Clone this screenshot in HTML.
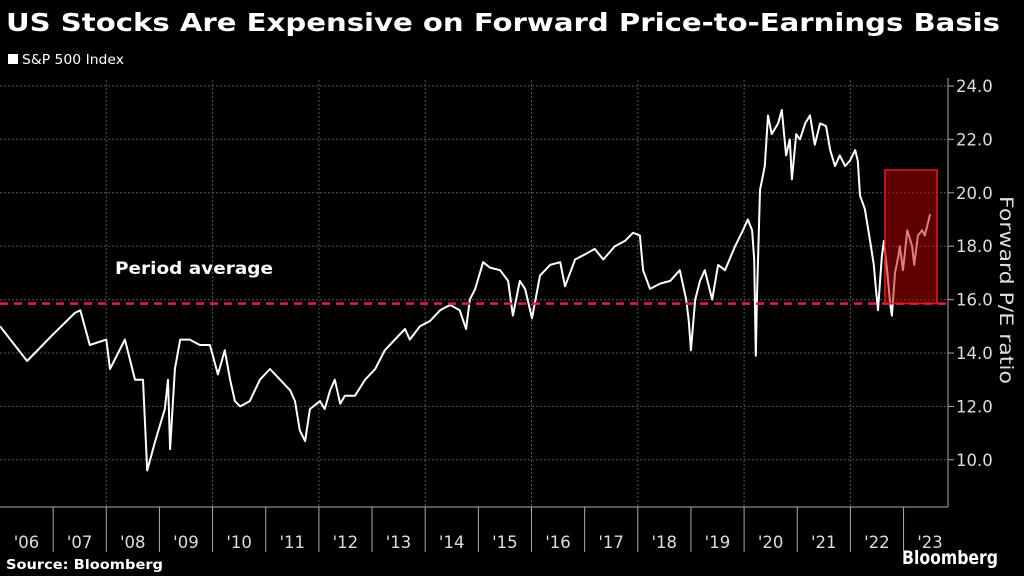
<!DOCTYPE html>
<html><head><meta charset="utf-8"><style>
body{margin:0;background:#000;width:1024px;height:576px;overflow:hidden;font-family:"DejaVu Sans","Liberation Sans",sans-serif;color:#fff}
svg{position:absolute;left:0;top:0;font-family:"DejaVu Sans","Liberation Sans",sans-serif}
</style></head><body>
<svg width="1024" height="576" id="chart">
<text x="6" y="31" font-size="25" font-weight="bold" fill="#fff" textLength="994" lengthAdjust="spacingAndGlyphs">US Stocks Are Expensive on Forward Price-to-Earnings Basis</text>
<rect x="8" y="54" width="10" height="10" fill="#fff"/>
<text x="22" y="64" font-size="13" fill="#fff" textLength="102" lengthAdjust="spacingAndGlyphs">S&amp;P 500 Index</text>
<text x="115" y="274" font-size="17" font-weight="bold" fill="#fff" textLength="158" lengthAdjust="spacingAndGlyphs">Period average</text>
<text transform="translate(1000,290) rotate(90)" text-anchor="middle" font-size="19" fill="#ddd" textLength="188" lengthAdjust="spacingAndGlyphs">Forward P/E ratio</text>
<text x="6" y="569" font-size="13" font-weight="bold" fill="#fff" textLength="157" lengthAdjust="spacingAndGlyphs">Source: Bloomberg</text>
<text x="998" y="564" text-anchor="end" font-size="19" font-weight="bold" fill="#fff" textLength="96" lengthAdjust="spacingAndGlyphs">Bloomberg</text>
<g id="grid"></g><g id="axes"></g><g id="series"></g><g id="overlay"></g>
</svg>
<script>
const years=[2006.00,2006.51,2007.00,2007.41,2007.51,2007.69,2008.00,2008.07,2008.35,2008.54,2008.69,2008.77,2008.92,2009.10,2009.16,2009.20,2009.29,2009.39,2009.57,2009.76,2009.95,2010.10,2010.23,2010.33,2010.42,2010.52,2010.70,2010.89,2011.08,2011.27,2011.46,2011.55,2011.64,2011.74,2011.83,2012.02,2012.11,2012.21,2012.30,2012.40,2012.49,2012.68,2012.87,2013.06,2013.24,2013.43,2013.62,2013.71,2013.90,2014.09,2014.28,2014.47,2014.65,2014.77,2014.84,2014.94,2015.09,2015.22,2015.41,2015.56,2015.65,2015.78,2015.88,2016.01,2016.16,2016.35,2016.54,2016.63,2016.82,2017.01,2017.19,2017.35,2017.57,2017.76,2017.91,2018.04,2018.10,2018.23,2018.42,2018.61,2018.79,2018.91,2018.96,2019.00,2019.08,2019.17,2019.26,2019.40,2019.51,2019.64,2019.83,2019.98,2020.07,2020.15,2020.19,2020.22,2020.24,2020.30,2020.39,2020.45,2020.52,2020.64,2020.71,2020.79,2020.86,2020.90,2020.98,2021.05,2021.15,2021.24,2021.33,2021.43,2021.54,2021.62,2021.71,2021.80,2021.90,2021.99,2022.09,2022.14,2022.18,2022.27,2022.37,2022.44,2022.48,2022.52,2022.59,2022.63,2022.69,2022.75,2022.78,2022.84,2022.90,2022.93,2022.99,2023.07,2023.16,2023.20,2023.27,2023.35,2023.40,2023.50];
const pe=[15.0,13.7,14.7,15.5,15.6,14.3,14.5,13.4,14.5,13.0,13.0,9.6,10.7,11.9,13.0,10.4,13.4,14.5,14.5,14.3,14.3,13.2,14.1,13.0,12.2,12.0,12.2,13.0,13.4,13.0,12.6,12.2,11.1,10.7,11.9,12.2,11.9,12.6,13.0,12.1,12.4,12.4,13.0,13.4,14.1,14.5,14.9,14.5,15.0,15.2,15.6,15.8,15.6,14.9,16.0,16.4,17.4,17.2,17.1,16.7,15.4,16.7,16.4,15.3,16.9,17.3,17.4,16.5,17.5,17.7,17.9,17.5,18.0,18.2,18.5,18.4,17.1,16.4,16.6,16.7,17.1,16.0,15.2,14.1,16.0,16.7,17.1,16.0,17.3,17.1,18.0,18.6,19.0,18.6,17.5,13.9,16.0,20.1,21.0,22.9,22.2,22.6,23.1,21.4,22.0,20.5,22.2,22.0,22.6,22.9,21.8,22.6,22.5,21.6,21.0,21.4,21.0,21.2,21.6,21.2,19.9,19.4,18.2,17.3,16.4,15.6,17.6,18.2,17.1,15.8,15.4,17.0,17.6,18.0,17.1,18.6,18.0,17.3,18.4,18.6,18.4,19.2];
const yTicks=[10,12,14,16,18,20,22,24];
const xLabels=["'06","'07","'08","'09","'10","'11","'12","'13","'14","'15","'16","'17","'18","'19","'20","'21","'22","'23"];
const periodAvg=[15.85];
const highlight=[2022.65,2023.63,15.85,20.85];
const NS="http://www.w3.org/2000/svg";
const AXY=507;
function X(t){return (t-2006)*53.15;}
function Y(v){return 86+(24-v)*26.7;}
function mk(tag,attrs,parent){const e=document.createElementNS(NS,tag);for(const k in attrs)e.setAttribute(k,attrs[k]);document.getElementById(parent).appendChild(e);return e;}
yTicks.forEach(v=>{
 const g=mk('line',{x1:0,x2:948,y1:Y(v),y2:Y(v),stroke:'#555','stroke-dasharray':'2,2','stroke-width':1},'grid');
 
 
 const t=mk('line',{x1:948,x2:954,y1:Y(v),y2:Y(v),stroke:'#aaa'},'axes');
 
 
 const l=mk('text',{x:956,y:Y(v)+6,'font-size':16.5,fill:'#ddd'},'axes');
 l.textContent=v.toFixed(1);
 
 
});
for(let yr=2008;yr<=2022;yr+=2){
 const g=mk('line',{x1:X(yr),x2:X(yr),y1:80,y2:AXY,stroke:'#555','stroke-dasharray':'2,2'},'grid');
 
 
}
xLabels.forEach((s,i)=>{
 const x=X(2006+i);
 if(i>0){
  const tk=mk('line',{x1:x,x2:x,y1:AXY,y2:552,stroke:'#aaa'},'axes');
  
  
 }
 const l=mk('text',{x:x+26.5,y:548,'font-size':16.5,fill:'#ddd','text-anchor':'middle'},'axes');
 l.textContent=s;
 
 
});
const ax=mk('line',{x1:948,x2:948,y1:78,y2:AXY,stroke:'#aaa'},'axes');


const bx=mk('line',{x1:0,x2:948,y1:AXY,y2:AXY,stroke:'#aaa'},'axes');


const pts=years.map((t,i)=>X(t).toFixed(1)+','+Y(pe[i]).toFixed(1)).join(' ');
const line=mk('polyline',{points:pts,fill:'none',stroke:'#fff','stroke-width':2,'stroke-linejoin':'round'},'series');


const av=mk('line',{x1:0,x2:948,y1:Y(periodAvg[0]),y2:Y(periodAvg[0]),stroke:'#e8194c','stroke-width':2.5,'stroke-dasharray':'8,6'},'overlay');


const hb=mk('rect',{x:X(highlight[0]),y:Y(highlight[3]),width:X(highlight[1])-X(highlight[0]),height:Y(highlight[2])-Y(highlight[3]),fill:'rgba(190,0,0,0.5)',stroke:'#e02020','stroke-width':1.5},'overlay');


</script>
</body></html>
